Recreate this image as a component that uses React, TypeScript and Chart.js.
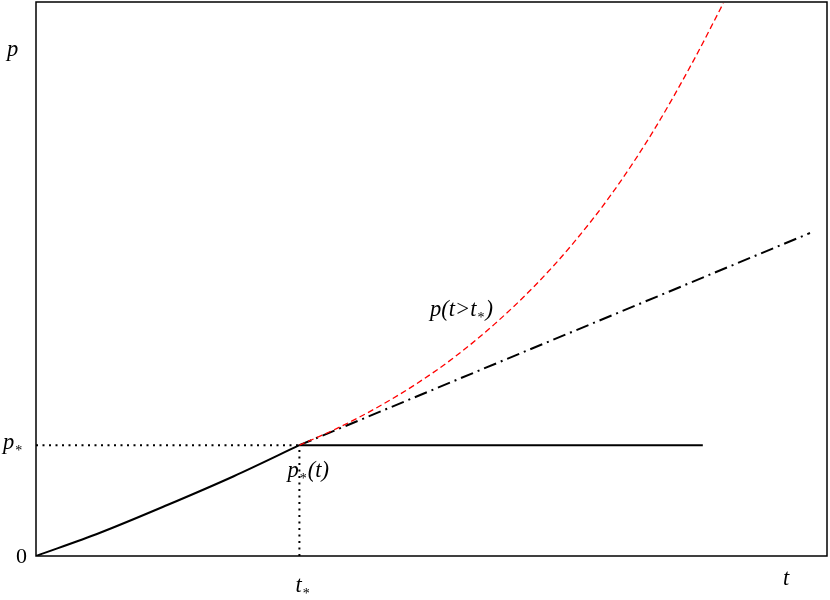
import React, { useEffect, useRef } from "react";
import { Chart, registerables } from "chart.js";

Chart.register(...registerables);

// Data (t, p) in arbitrary units
const T_STAR = 3.33;
const P_STAR = 2.0;
const T_MAX = 10;
const P_MAX = 10;

// p*(t): rising part up to t*
const riseT = [0, 0.81, 1.66, 2.5, 3.33];
const riseP = [0, 0.42, 0.92, 1.44, 2.0];

// plateau after t*
const plateauT = [3.33, 8.43];
const plateauP = [2.0, 2.0];

// linear extrapolation (dash-dot)
const linT = [3.33, 9.785];
const linP = [2.0, 5.83];

// p(t > t*) red dashed growth
const growT = [3.33, 3.8, 4.3, 4.8, 5.3, 5.8, 6.3, 6.8, 7.3, 7.8, 8.3, 8.69];
const growP = [2.0, 2.3, 2.67, 3.1, 3.6, 4.19, 4.87, 5.66, 6.58, 7.66, 8.91, 9.98];

// guide lines
const hGuideT = [0, 3.33];
const hGuideP = [2.0, 2.0];
const vGuideT = [3.33, 3.33];
const vGuideP = [0, 2.0];

const pts = (xs: number[], ys: number[]) => xs.map((x, i) => ({ x, y: ys[i] }));

const FONT = '"Liberation Serif", "DejaVu Serif", serif';

const overlay = {
  id: "overlay",
  afterDraw(chart: any) {
    const { ctx, chartArea } = chart;
    const xs = chart.scales.x;
    const ys = chart.scales.y;
    ctx.save();
    // frame
    ctx.strokeStyle = "#000";
    ctx.lineWidth = 1.5;
    ctx.strokeRect(chartArea.left, chartArea.top, chartArea.right - chartArea.left, chartArea.bottom - chartArea.top);

    ctx.fillStyle = "#000";
    ctx.textBaseline = "alphabetic";
    ctx.textAlign = "left";
    const big = `italic 22.5px ${FONT}`;
    const small = `14px ${FONT}`;

    const withSub = (x: number, y: number, main: string, sub: string, after = "") => {
      ctx.font = big;
      ctx.fillText(main, x, y);
      const w = ctx.measureText(main).width;
      ctx.font = small;
      ctx.fillText(sub, x + w + 1, y + 6);
      const sw = ctx.measureText(sub).width;
      if (after) {
        ctx.font = big;
        ctx.fillText(after, x + w + sw + 2, y);
      }
    };

    const xStar = xs.getPixelForValue(T_STAR);
    const yStar = ys.getPixelForValue(P_STAR);
    const y0 = ys.getPixelForValue(0);

    // axis labels
    ctx.font = big;
    ctx.fillText("p", 7, 56);
    ctx.fillText("t", 783, 585);
    ctx.font = `22px ${FONT}`;
    ctx.fillText("0", 16, y0 + 7);

    withSub(3, yStar + 4, "p", "*");
    withSub(xStar - 4, 592, "t", "*");
    withSub(xStar - 12, yStar + 32, "p", "*", "(t)");
    withSub(430, 316, "p(t>t", "*", ")");

    ctx.restore();
  },
};

export default function App() {
  const ref = useRef<HTMLCanvasElement>(null);
  useEffect(() => {
    if (!ref.current) return;
    const chart = new Chart(ref.current, {
      type: "scatter",
      data: {
        datasets: [
          { data: pts(hGuideT, hGuideP), showLine: true, borderColor: "#000", borderWidth: 2, borderDash: [2, 4.5], pointRadius: 0 },
          { data: pts(vGuideT, vGuideP), showLine: true, borderColor: "#000", borderWidth: 2, borderDash: [2, 4.5], pointRadius: 0 },
          { data: pts(growT, growP), showLine: true, borderColor: "#ff0000", borderWidth: 1.3, borderDash: [6, 3.5], pointRadius: 0, cubicInterpolationMode: "monotone" },
          { data: pts(linT, linP), showLine: true, borderColor: "#000", borderWidth: 2, borderDash: [13, 5, 2, 5], pointRadius: 0 },
          { data: pts(riseT, riseP), showLine: true, borderColor: "#000", borderWidth: 2, pointRadius: 0, cubicInterpolationMode: "monotone" },
          { data: pts(plateauT, plateauP), showLine: true, borderColor: "#000", borderWidth: 2, pointRadius: 0 },
        ],
      },
      options: {
        animation: false,
        responsive: false,
        maintainAspectRatio: false,
        layout: { padding: { left: 36, top: 2, right: 3, bottom: 44 } },
        plugins: { legend: { display: false }, tooltip: { enabled: false } },
        scales: {
          x: { type: "linear", min: 0, max: T_MAX, display: false },
          y: { type: "linear", min: 0, max: P_MAX, display: false },
        },
      } as any,
      plugins: [overlay],
    });
    return () => chart.destroy();
  }, []);
  return (
    <div style={{ position: "fixed", left: 0, top: 0, width: 830, height: 600, background: "#fff" }}>
      <canvas ref={ref} width={830} height={600} style={{ width: 830, height: 600 }} />
    </div>
  );
}
